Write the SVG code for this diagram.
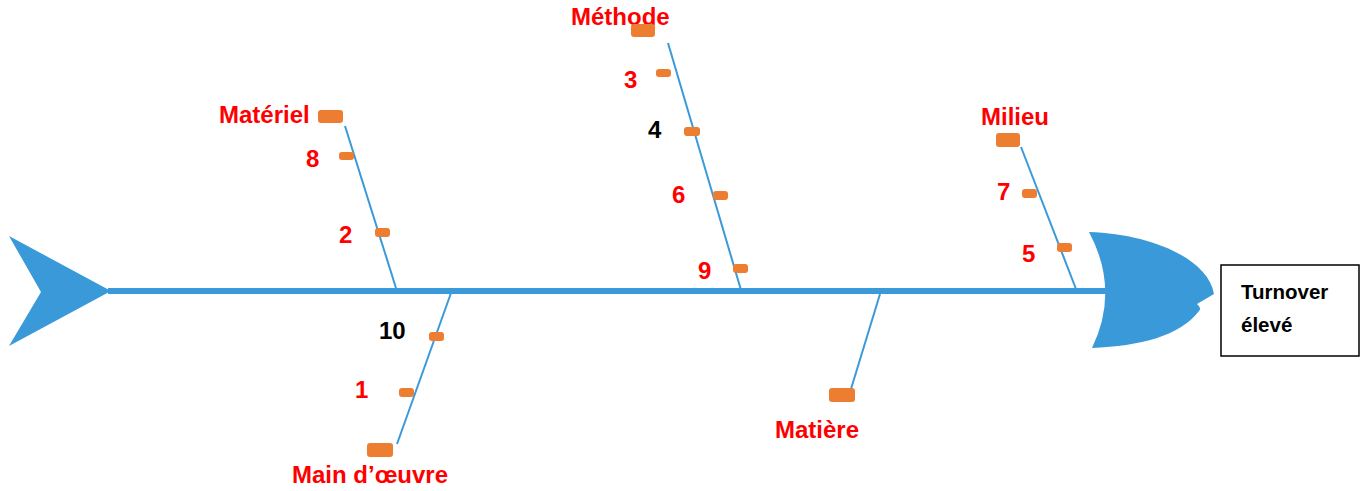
<svg xmlns="http://www.w3.org/2000/svg" width="1365" height="491" viewBox="0 0 1365 491">
<style>
.bone{stroke:#3A9AD9;stroke-width:2;fill:none}
.spine{stroke:#3A9AD9;stroke-width:6;fill:none}
.fish{fill:#3A9AD9}
.m{fill:#ED7D31}
.lbl{font-family:"Liberation Sans",Arial,sans-serif;font-weight:bold;font-size:24px;fill:#FF0000}
.blk{fill:#000000}
.box{fill:#FFFFFF;stroke:#000000;stroke-width:1.5}
.res{font-family:"Liberation Sans",Arial,sans-serif;font-weight:bold;font-size:20.5px;fill:#000000}
</style>
<rect width="1365" height="491" fill="#FFFFFF"/>
<g id="connectors">
<line class="spine" x1="108" y1="291" x2="1108" y2="291"/>
<line class="bone" x1="345" y1="126" x2="396" y2="288"/>
<line class="bone" x1="668" y1="43" x2="741" y2="290"/>
<line class="bone" x1="1021" y1="147" x2="1076" y2="289"/>
<line class="bone" x1="451" y1="293" x2="397" y2="444"/>
<line class="bone" x1="880" y1="294" x2="851" y2="389"/>
</g>
<g id="tail">
<polygon class="fish" points="9,236 111,291 9,346 41,292"/>
</g>
<g id="head">
<path class="fish" d="M1089,232 C1150,234 1208,258 1214,294 L1197,304 Q1202,308 1199,311 C1180,336 1140,346 1092,348 Q1120,290 1089,232 Z"/>
</g>
<g id="effect">
<rect class="box" x="1221" y="265" width="138" height="91"/>
<text class="res" x="1241" y="299">Turnover</text>
<text class="res" x="1241" y="332">élevé</text>
</g>
<g id="materiel">
<text class="lbl" x="219" y="123">Matériel</text>
<rect class="m" x="318" y="110" width="25" height="13" rx="3"/>
<text class="lbl" x="306" y="167">8</text>
<rect class="m" x="339" y="152" width="15" height="8" rx="3"/>
<text class="lbl" x="339" y="243">2</text>
<rect class="m" x="375" y="228" width="15" height="9" rx="3"/>
</g>
<g id="methode">
<text class="lbl" x="571" y="25">Méthode</text>
<rect class="m" x="631" y="24" width="24" height="13" rx="3"/>
<text class="lbl" x="624" y="88">3</text>
<rect class="m" x="656" y="69" width="15" height="8" rx="3"/>
<text class="lbl blk" x="648" y="138">4</text>
<rect class="m" x="684" y="127" width="16" height="9" rx="3"/>
<text class="lbl" x="672" y="203">6</text>
<rect class="m" x="713" y="191" width="15" height="9" rx="3"/>
<text class="lbl" x="698" y="279">9</text>
<rect class="m" x="733" y="264" width="15" height="9" rx="3"/>
</g>
<g id="milieu">
<text class="lbl" x="981" y="125">Milieu</text>
<rect class="m" x="996" y="133" width="24" height="14" rx="3"/>
<text class="lbl" x="997" y="200">7</text>
<rect class="m" x="1022" y="189" width="15" height="9" rx="3"/>
<text class="lbl" x="1022" y="262">5</text>
<rect class="m" x="1057" y="243" width="15" height="9" rx="3"/>
</g>
<g id="main-oeuvre">
<text class="lbl" x="292" y="483">Main d’œuvre</text>
<rect class="m" x="367" y="443" width="26" height="14" rx="3"/>
<text class="lbl blk" x="379" y="339">10</text>
<rect class="m" x="429" y="332" width="15" height="9" rx="3"/>
<text class="lbl" x="355" y="398">1</text>
<rect class="m" x="399" y="388" width="15" height="9" rx="3"/>
</g>
<g id="matiere">
<text class="lbl" x="775" y="438">Matière</text>
<rect class="m" x="829" y="388" width="26" height="14" rx="3"/>
</g>
</svg>
